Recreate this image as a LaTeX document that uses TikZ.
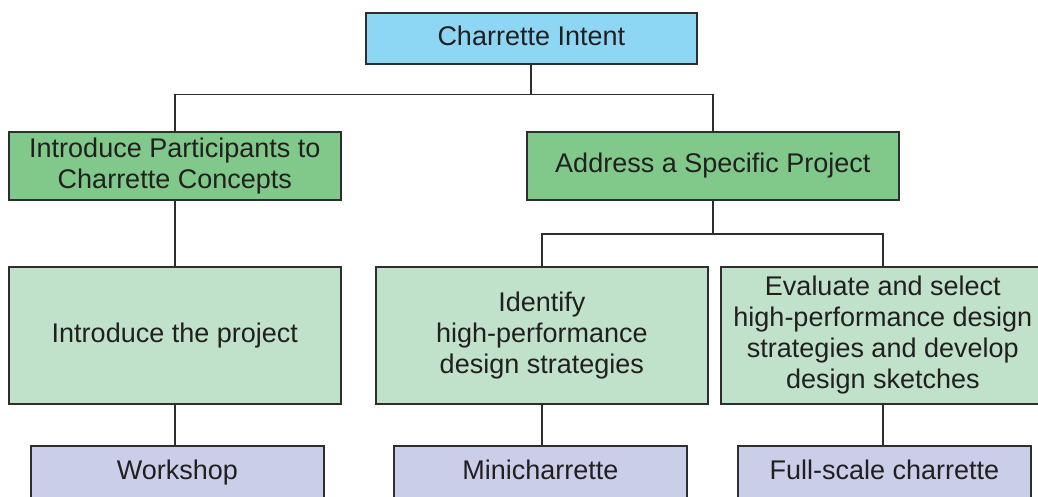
\documentclass[tikz,border=0pt]{standalone}
\usepackage{fontspec}
\setmainfont{Liberation Sans}
\usepackage{tikz}
\usetikzlibrary{positioning}
\definecolor{intentblue}{HTML}{8DD7F5}
\definecolor{aimgreen}{HTML}{80C98A}
\definecolor{stepgreen}{HTML}{C0E2CA}
\definecolor{formlilac}{HTML}{CACEE8}
\definecolor{inkgray}{HTML}{231F20}
\definecolor{edgegray}{HTML}{2E2E2E}
\tikzset{
  box/.style={rectangle, draw=edgegray, line width=1.6pt, anchor=north west, align=center, inner sep=0pt,
    text=inkgray, font=\fontsize{27}{31}\selectfont},
  oneline/.style={text height=19.5pt, text depth=6pt},
  conn/.style={draw=edgegray, line width=1.8pt}
}

\begin{document}
\begin{tikzpicture}[x=1pt,y=-1pt]
\useasboundingbox (0,0) rectangle (1038,497);
\clip (0,0) rectangle (1038,497);

% top
\node at (365,12)[box, oneline, fill=intentblue, minimum width=331pt, minimum height=51pt] (intent) {Charrette Intent};

% aims
\node at (8,131)[box, fill=aimgreen, minimum width=332pt, minimum height=68pt] (intro) {Introduce Participants to\\Charrette Concepts};
\node at (526,131)[box, oneline, fill=aimgreen, minimum width=372pt, minimum height=68pt] (project) {Address a Specific Project};

% steps
\node at (8,266)[box, oneline, fill=stepgreen, minimum width=332pt, minimum height=137pt] (present) {Introduce the project};
\node at (375,266)[box, fill=stepgreen, minimum width=332pt, minimum height=137pt] (identify) {Identify\\high-performance\\design strategies};
\node at (720,266)[box, fill=stepgreen, minimum width=324pt, minimum height=137pt] (evaluate) {Evaluate and select\\high-performance design\\strategies and develop\\design sketches};

% forms
\node at (30,445)[box, oneline, fill=formlilac, minimum width=293pt, minimum height=54pt] (workshop) {Workshop};
\node at (393,445)[box, oneline, fill=formlilac, minimum width=293pt, minimum height=54pt] (mini) {Minicharrette};
\node at (737,445)[box, oneline, fill=formlilac, minimum width=293pt, minimum height=54pt] (full) {Full-scale charrette};

% connectors
\draw[conn] (intent.south) -- ++(0,30) -| (intro.north);
\draw[conn] (intent.south) -- ++(0,30) -| (project.north);
\draw[conn] (intro.south) -- (present.north);
\draw[conn] (project.south) -- ++(0,33) -| (identify.north);
\draw[conn] (project.south) -- ++(0,33) -| (evaluate.north);
\draw[conn] (present.south) -- (workshop.north -| present.south);
\draw[conn] (identify.south) -- (mini.north -| identify.south);
\draw[conn] (evaluate.south) -- (full.north -| evaluate.south);
\end{tikzpicture}
\end{document}
